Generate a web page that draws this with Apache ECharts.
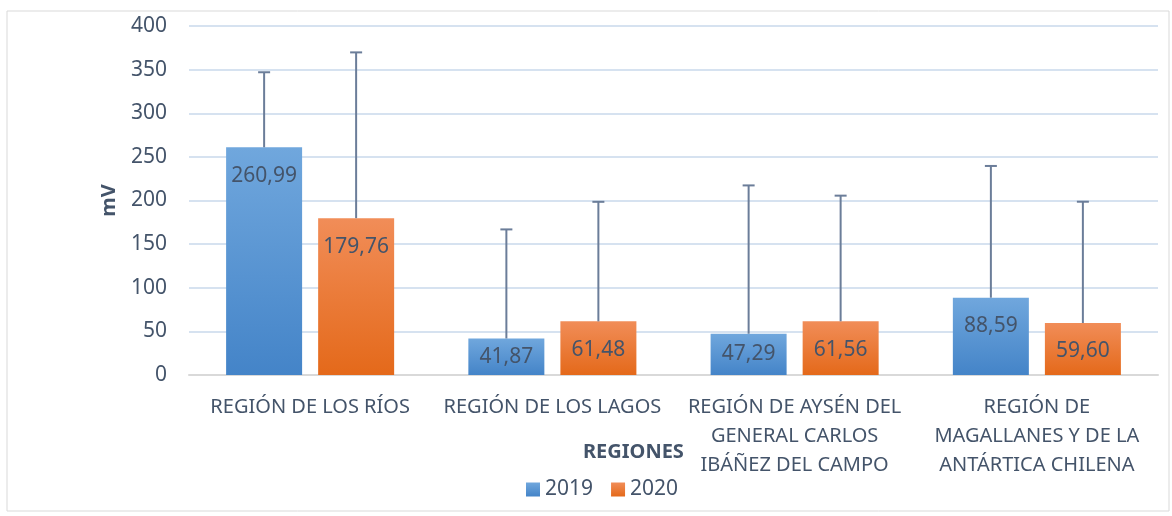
<!DOCTYPE html>
<html>
<head>
<meta charset="utf-8">
<script src="https://cdn.jsdelivr.net/npm/echarts@6/dist/echarts.min.js"></script>
<style>
  html, body { margin: 0; padding: 0; background: #fff; }
  #chart { width: 1172px; height: 516px; }
</style>
</head>
<body>
<div id="chart"></div>
<script>
const regions = [
  'REGIÓN DE LOS RÍOS',
  'REGIÓN DE LOS LAGOS',
  'REGIÓN DE AYSÉN DEL\nGENERAL CARLOS\nIBÁÑEZ DEL CAMPO',
  'REGIÓN DE\nMAGALLANES Y DE LA\nANTÁRTICA CHILENA'
];
const values2019 = [260.99, 41.87, 47.29, 88.59];
const values2020 = [179.76, 61.48, 61.56, 59.60];
// upper error bar (standard deviation)
const sd2019 = [86, 125, 170, 151];
const sd2020 = [190, 137, 144, 139];

const BAR_W = 76;
const GAP = 16;
const font = 'Noto Sans';
const textColor = '#44546a';

const chart = echarts.init(document.getElementById('chart'));

function grad(top, bottom) {
  return new echarts.graphic.LinearGradient(0, 0, 0, 1, [
    { offset: 0, color: top },
    { offset: 1, color: bottom }
  ]);
}

// short bars get their label centred so it stays inside the bar
function barData(values) {
  return values.map(v => v < 50 ? { value: v, label: { position: 'inside' } } : v);
}

function errorSeries(name, values, sd, side) {
  return {
    name: name,
    type: 'custom',
    z: 5,
    silent: true,
    data: values.map((v, i) => [i, v, v + sd[i]]),
    renderItem: function (params, api) {
      const base = api.coord([api.value(0), api.value(1)]);
      const top = api.coord([api.value(0), api.value(2)]);
      const x = base[0] + side * (BAR_W + GAP) / 2;
      const style = { stroke: '#6b7d99', lineWidth: 2 };
      return {
        type: 'group',
        children: [
          { type: 'line', shape: { x1: x, y1: base[1], x2: x, y2: top[1] }, style: style },
          { type: 'line', shape: { x1: x - 6, y1: top[1], x2: x + 6, y2: top[1] }, style: style }
        ]
      };
    }
  };
}

const labelStyle = {
  show: true,
  position: 'insideTop',
  distance: 18,
  color: '#44546a',
  fontFamily: font,
  fontSize: 21,
  formatter: p => p.value.toFixed(2).replace('.', ',')
};

chart.setOption({
  animation: false,
  textStyle: { fontFamily: font },
  graphic: [{
    type: 'rect',
    shape: { x: 7, y: 11, width: 1162, height: 500 },
    style: { fill: 'none', stroke: '#d9d9d9', lineWidth: 1 },
    silent: true
  }],
  title: {
    text: 'REGIONES',
    left: 578,
    top: 437,
    textStyle: { fontFamily: font, fontSize: 20, fontWeight: 'bold', color: textColor }
  },
  legend: {
    data: ['2019', '2020'],
    left: 521,
    top: 474,
    itemWidth: 14,
    itemHeight: 14,
    itemGap: 18,
    icon: 'rect',
    textStyle: { fontFamily: font, fontSize: 21, color: textColor }
  },
  grid: { left: 189, right: 14, top: 26, bottom: 141 },
  xAxis: {
    type: 'category',
    data: regions,
    axisLine: { lineStyle: { color: '#d9d9d9', width: 2 } },
    axisTick: { show: false },
    axisLabel: {
      interval: 0,
      margin: 18,
      lineHeight: 29,
      color: textColor,
      fontFamily: font,
      fontSize: 20
    }
  },
  yAxis: {
    type: 'value',
    min: 0,
    max: 400,
    interval: 50,
    name: 'mV',
    nameLocation: 'middle',
    nameRotate: 90,
    nameGap: 70,
    nameTextStyle: { fontFamily: font, fontSize: 20, fontWeight: 'bold', color: textColor },
    axisLine: { show: false },
    axisTick: { show: false },
    axisLabel: { margin: 22, color: textColor, fontFamily: font, fontSize: 21 },
    splitLine: { lineStyle: { color: '#d6e2f0', width: 2 } }
  },
  series: [
    {
      name: '2019',
      type: 'bar',
      data: barData(values2019),
      barWidth: BAR_W,
      barGap: (GAP / BAR_W * 100).toFixed(1) + '%',
      itemStyle: { color: grad('#70a7dd', '#4484c8') },
      label: labelStyle
    },
    {
      name: '2020',
      type: 'bar',
      data: barData(values2020),
      barWidth: BAR_W,
      itemStyle: { color: grad('#f18d58', '#e4691a') },
      label: labelStyle
    },
    errorSeries('err2019', values2019, sd2019, -1),
    errorSeries('err2020', values2020, sd2020, 1)
  ]
});
</script>
</body>
</html>
